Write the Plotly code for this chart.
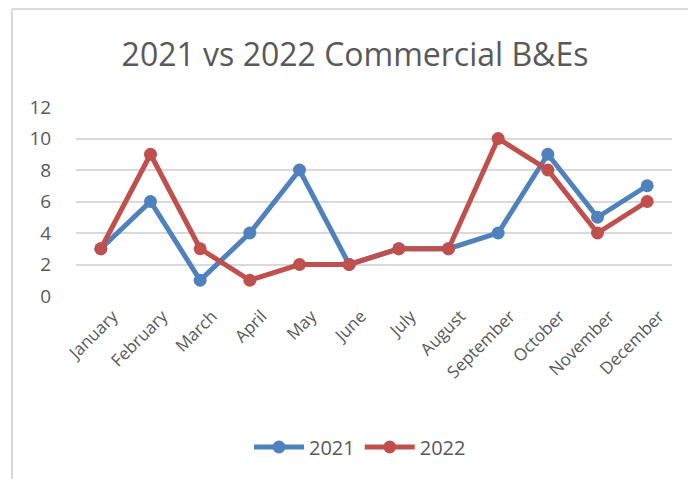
import plotly.graph_objects as go

months = ["January", "February", "March", "April", "May", "June", "July",
          "August", "September", "October", "November", "December"]
b_and_e_2021 = [3, 6, 1, 4, 8, 2, 3, 3, 4, 9, 5, 7]
b_and_e_2022 = [3, 9, 3, 1, 2, 2, 3, 3, 10, 8, 4, 6]

W, H = 688, 479
L, R, T, B = 76, 16, 107, 183
pw = W - L - R
ph = H - T - B

text_color = "#595959"
grid_color = "#D9D9D9"
font_family = "Open Sans, Liberation Sans, sans-serif"

fig = go.Figure()
fig.add_trace(go.Scatter(
    x=months, y=b_and_e_2021, name="2021", mode="lines+markers",
    line=dict(color="#4F81BD", width=5),
    marker=dict(size=13, color="#4F81BD"),
))
fig.add_trace(go.Scatter(
    x=months, y=b_and_e_2022, name="2022", mode="lines+markers",
    line=dict(color="#C0504D", width=5),
    marker=dict(size=13, color="#C0504D"),
))

# outer chart frame (left and top edges)
fx0 = (12 - L) / pw
fy_top = 1 + (T - 9) / ph
fy_bot = -(H - T - ph) / ph - 0.1
fx1 = 1 + (R + 5) / pw
fig.add_shape(type="line", xref="paper", yref="paper",
              x0=fx0, x1=fx0, y0=fy_bot, y1=fy_top,
              line=dict(color=grid_color, width=2))
fig.add_shape(type="line", xref="paper", yref="paper",
              x0=fx0, x1=fx1, y0=fy_top, y1=fy_top,
              line=dict(color=grid_color, width=2))

fig.update_layout(
    width=W, height=H,
    margin=dict(l=L, r=R, t=T, b=B),
    paper_bgcolor="white", plot_bgcolor="white",
    font=dict(family=font_family, color=text_color),
    title=dict(
        text="2021 vs 2022 Commercial B&Es",
        x=355 / W, xanchor="center",
        y=1 - 55 / H, yanchor="middle",
        font=dict(size=32, color=text_color, family=font_family),
    ),
    showlegend=True,
    legend=dict(
        orientation="h", x=0.5 - (L - R) / 2 / pw + (360 - W / 2) / pw,
        xanchor="center", y=-(447 - T - ph) / ph, yanchor="middle",
        font=dict(size=20, color=text_color),
        itemwidth=50, bgcolor="rgba(0,0,0,0)",
    ),
    xaxis=dict(
        type="category", tickangle=-45, showgrid=False, zeroline=False,
        showline=False, ticks="", tickfont=dict(size=17, color=text_color),
        ticklabelshift=12, ticklabelstandoff=6,
        range=[-0.5, 11.5],
    ),
    yaxis=dict(
        range=[0, 12], dtick=2, tick0=0, showgrid=True, gridcolor=grid_color,
        gridwidth=1.5, zeroline=False, showline=False, ticks="outside",
        ticklen=20, tickcolor="white",
        tickfont=dict(size=19, color=text_color),
    ),
)

fig.write_html("out.html")
